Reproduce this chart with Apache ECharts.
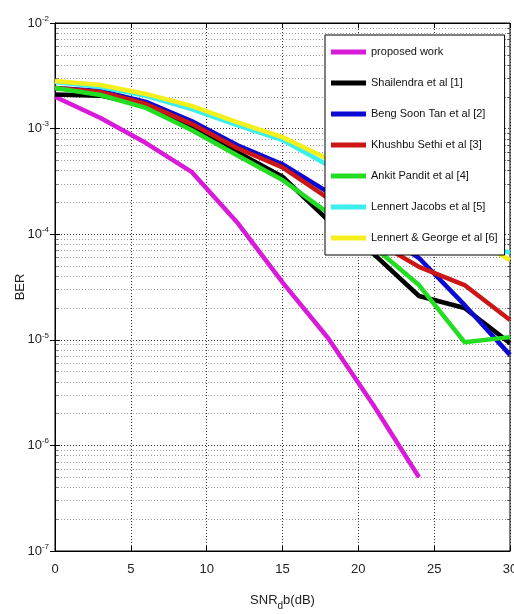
<!DOCTYPE html>
<html>
<head>
<meta charset="UTF-8">
<script src="https://cdn.jsdelivr.net/npm/echarts@6/dist/echarts.min.js"></script>
<style>
  html, body { margin: 0; padding: 0; background: #fff; }
  #main { width: 514px; height: 614px; }
</style>
</head>
<body>
<div id="main"></div>
<script>
// SNR in dB, sampled every 3 dB
const snr = [0, 3, 6, 9, 12, 15, 18, 21, 24, 27, 30];

// BER values
const proposedWork = [2.0e-3, 1.26e-3, 7.3e-4, 3.9e-4, 1.3e-4, 3.5e-5, 1.04e-5, 2.4e-6, 5.0e-7];
const shailendra = [2.1e-3, 2.05e-3, 1.64e-3, 1.04e-3, 6.0e-4, 3.5e-4, 1.36e-4, 6.5e-5, 2.6e-5, 2.0e-5, 9.3e-6];
const bengSoonTan = [2.42e-3, 2.27e-3, 1.79e-3, 1.18e-3, 7.0e-4, 4.6e-4, 2.5e-4, 1.15e-4, 5.95e-5, 2.14e-5, 7.2e-6];
const khushbuSethi = [2.42e-3, 2.22e-3, 1.71e-3, 1.11e-3, 6.55e-4, 4.3e-4, 2.2e-4, 8.8e-5, 4.9e-5, 3.3e-5, 1.54e-5];
const ankitPandit = [2.42e-3, 2.08e-3, 1.57e-3, 9.7e-4, 5.6e-4, 3.26e-4, 1.59e-4, 7.6e-5, 3.3e-5, 9.5e-6, 1.06e-5];
const lennertJacobs = [2.76e-3, 2.48e-3, 2.04e-3, 1.53e-3, 1.08e-3, 7.8e-4, 4.5e-4, 2.35e-4, 1.3e-4, 8.8e-5, 6.7e-5];
const lennertGeorge = [2.83e-3, 2.59e-3, 2.13e-3, 1.64e-3, 1.15e-3, 8.3e-4, 5.15e-4, 2.9e-4, 1.7e-4, 9.8e-5, 5.7e-5];

const names = [
  'proposed work',
  'Shailendra et al [1]',
  'Beng Soon Tan et al [2]',
  'Khushbu Sethi et al [3]',
  'Ankit Pandit et al [4]',
  'Lennert Jacobs et al [5]',
  'Lennert & George et al [6]'
];
const values = [proposedWork, shailendra, bengSoonTan, khushbuSethi, ankitPandit, lennertJacobs, lennertGeorge];
const colors = ['#d81bd8', '#000000', '#0a0ad2', '#cc1616', '#22dd22', '#3ceeee', '#f5ef1e'];

const xTicks = [0, 5, 10, 15, 20, 25, 30];
const xMin = xTicks[0], xMax = xTicks[xTicks.length - 1];

// minor log grid: 2..9 x 10^k
const minorGrid = [];
for (let k = -7; k < -2; k++) {
  for (let m = 2; m <= 9; m++) minorGrid.push(m * Math.pow(10, k));
}

const font = "'Liberation Sans', Arial, sans-serif";
const dotted = () => ({ color: '#333', width: 1, type: [1, 2] });
const tickLen = 0.2; // minor tick length in dB units

const chart = echarts.init(document.getElementById('main'));

const series = [{
  // minor grid lines of the log axis
  type: 'lines',
  coordinateSystem: 'cartesian2d',
  silent: true,
  z: 1,
  lineStyle: dotted(),
  data: minorGrid.map(v => ({ coords: [[xMin, v], [xMax, v]] }))
}, {
  // minor ticks on left and right frame
  type: 'lines',
  coordinateSystem: 'cartesian2d',
  silent: true,
  z: 1,
  lineStyle: { color: '#000', width: 1 },
  data: minorGrid.map(v => ({ coords: [[xMin, v], [xMin + tickLen, v]] }))
    .concat(minorGrid.map(v => ({ coords: [[xMax - tickLen, v], [xMax, v]] })))
}];
names.forEach((n, i) => {
  series.push({
    type: 'line',
    name: n,
    data: values[i].map((v, j) => [snr[j], v]),
    showSymbol: false,
    symbol: 'none',
    lineStyle: { width: 4.5, color: colors[i] },
    itemStyle: { color: colors[i] }
  });
});

const option = {
  animation: false,
  backgroundColor: '#fff',
  textStyle: { fontFamily: font },
  grid: {
    left: 55, right: 4, top: 23, bottom: 63,
    outerBoundsMode: 'none',
    show: true, borderColor: '#000', borderWidth: 1, backgroundColor: '#fff'
  },
  legend: {
    data: names,
    orient: 'vertical',
    left: 325,
    top: 35,
    padding: [9, 7, 9, 6],
    itemGap: 15,
    itemWidth: 35,
    itemHeight: 5,
    itemTextGap: 4,
    icon: 'rect',
    backgroundColor: '#fff',
    borderColor: '#000',
    borderWidth: 1,
    textStyle: { fontFamily: font, fontSize: 11, lineHeight: 16, color: '#111' }
  },
  xAxis: [{
    type: 'value',
    min: xMin,
    max: xMax,
    interval: 5,
    name: '{a|SNR}{s|d}{a|b(dB)}',
    nameLocation: 'middle',
    nameGap: 38,
    nameMoveOverlap: false,
    nameTextStyle: {
      rich: {
        a: { fontFamily: font, fontSize: 13, color: '#222' },
        s: { fontFamily: font, fontSize: 10, color: '#222', padding: [12, 0, 0, 0] }
      }
    },
    axisLine: { lineStyle: { color: '#000' } },
    axisTick: { inside: true, length: 5, lineStyle: { color: '#000' } },
    axisLabel: { fontFamily: font, fontSize: 13, color: '#222', margin: 12 },
    splitLine: { show: true, lineStyle: dotted() }
  }, {
    type: 'value',
    position: 'top',
    min: xMin,
    max: xMax,
    interval: 5,
    axisLine: { lineStyle: { color: '#000' } },
    axisTick: { inside: true, length: 5, lineStyle: { color: '#000' } },
    axisLabel: { show: false },
    splitLine: { show: false }
  }],
  yAxis: [{
    type: 'log',
    logBase: 10,
    min: 1e-7,
    max: 1e-2,
    name: 'BER',
    nameLocation: 'middle',
    nameGap: 28,
    nameMoveOverlap: false,
    nameTextStyle: { fontFamily: font, fontSize: 13, color: '#222' },
    axisLine: { lineStyle: { color: '#000' } },
    axisTick: { inside: true, length: 5, lineStyle: { color: '#000' } },
    axisLabel: {
      margin: 6,
      formatter: v => '{b|10}{e|' + Math.round(Math.log10(v)) + '}',
      rich: {
        b: { fontFamily: font, fontSize: 13, color: '#222' },
        e: { fontFamily: font, fontSize: 8, color: '#222', padding: [0, 0, 9, 0] }
      }
    },
    splitLine: { show: true, lineStyle: dotted() }
  }, {
    type: 'log',
    logBase: 10,
    min: 1e-7,
    max: 1e-2,
    position: 'right',
    axisLine: { lineStyle: { color: '#000' } },
    axisTick: { inside: true, length: 5, lineStyle: { color: '#000' } },
    axisLabel: { show: false },
    splitLine: { show: false }
  }],
  series: series
};

chart.setOption(option);
</script>
</body>
</html>
